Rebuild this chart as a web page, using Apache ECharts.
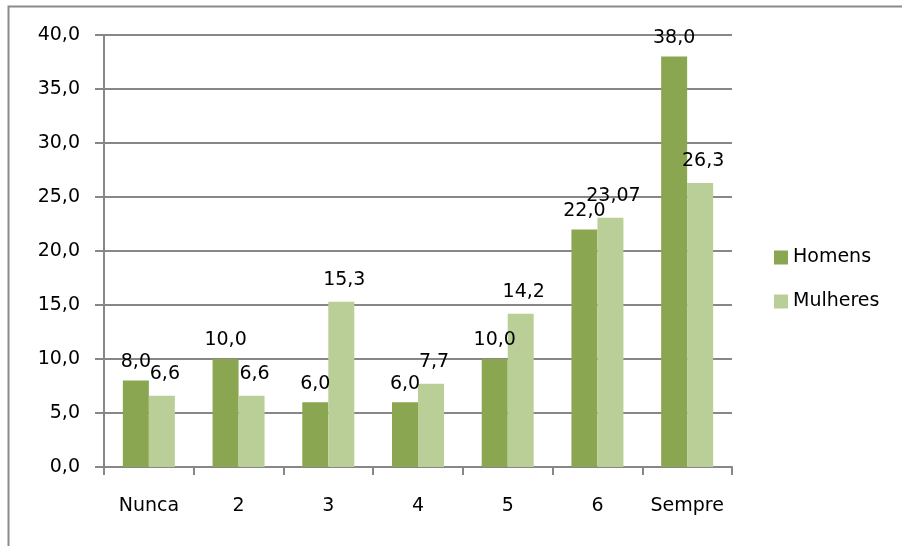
<!DOCTYPE html>
<html>
<head>
<meta charset="utf-8">
<script src="https://cdn.jsdelivr.net/npm/echarts@6/dist/echarts.min.js"></script>
<style>html,body{margin:0;padding:0;background:#fff}#c{width:902px;height:546px}</style>
</head>
<body>
<div id="c"></div>
<script>
var categories = ['Nunca', '2', '3', '4', '5', '6', 'Sempre'];
var homens = [8.0, 10.0, 6.0, 6.0, 10.0, 22.0, 38.0];
var mulheres = [6.6, 6.6, 15.3, 7.7, 14.2, 23.07, 26.3];
var seriesNames = ['Homens', 'Mulheres'];
var yTicks = { min: 0, max: 40, interval: 5 };

function fmt(v) {
  var s = Math.round(v * 10) === v * 10 ? v.toFixed(1) : v.toFixed(2);
  return s.replace('.', ',');
}
var FONT = 'DejaVu Sans';
var FS = 19;
var chart = echarts.init(document.getElementById('c'), null, { renderer: 'canvas' });
chart.setOption({
  animation: false,
  backgroundColor: '#fff',
  textStyle: { fontFamily: FONT },
  graphic: [{
    type: 'rect',
    shape: { x: 8.5, y: 6.5, width: 1000, height: 600 },
    style: { fill: 'none', stroke: '#8a8a8a', lineWidth: 2 },
    silent: true
  }],
  grid: { left: 104, right: 170, top: 35, bottom: 79 },
  legend: {
    orient: 'vertical',
    left: 769, top: 243,
    itemWidth: 14, itemHeight: 14, itemGap: 25,
    icon: 'rect',
    textStyle: { fontFamily: FONT, fontSize: FS, color: '#000', padding: [0, 0, 0, 0] },
    data: seriesNames
  },
  xAxis: {
    type: 'category',
    data: categories,
    axisLine: { lineStyle: { color: '#878787', width: 2 } },
    axisTick: { show: true, interval: 0, length: 8, lineStyle: { color: '#878787', width: 2 } },
    axisLabel: { interval: 0, hideOverlap: false, color: '#000', fontSize: FS, fontFamily: FONT, margin: 30 }
  },
  yAxis: {
    type: 'value',
    min: yTicks.min, max: yTicks.max, interval: yTicks.interval,
    axisLine: { show: true, lineStyle: { color: '#878787', width: 2 } },
    axisTick: { show: true, length: 9, lineStyle: { color: '#878787', width: 2 } },
    splitLine: { lineStyle: { color: '#878787', width: 2 } },
    axisLabel: { color: '#000', fontSize: FS, fontFamily: FONT, margin: 24, formatter: function (v) { return fmt(v); } }
  },
  series: [{
    name: seriesNames[0], type: 'bar', data: homens,
    barWidth: 26, barGap: '0%',
    itemStyle: { color: '#8BA650' },
    label: { show: true, position: 'top', distance: 9, color: '#000', fontSize: FS, fontFamily: FONT,
      formatter: function (p) { return fmt(p.value); } }
  }, {
    name: seriesNames[1], type: 'bar', data: mulheres,
    barWidth: 26,
    itemStyle: { color: '#BACF98' },
    label: { show: true, position: 'top', distance: 12, offset: [3, 0], color: '#000', fontSize: FS, fontFamily: FONT,
      formatter: function (p) { return fmt(p.value); } }
  }]
});
</script>
</body>
</html>
